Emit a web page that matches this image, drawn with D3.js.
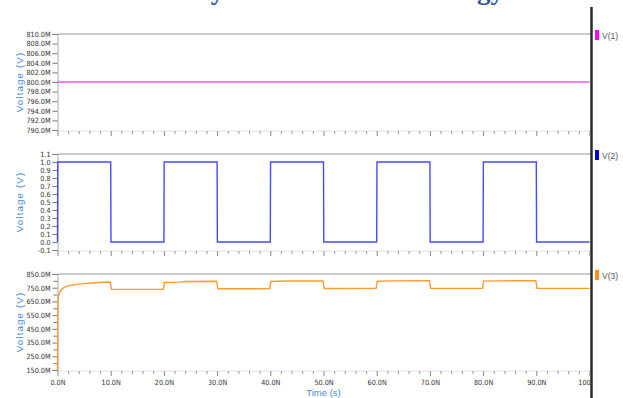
<!DOCTYPE html>
<html>
<head>
<meta charset="utf-8">
<script src="https://cdn.jsdelivr.net/npm/d3@7"></script>
<style>
  html, body { margin: 0; padding: 0; background: #fff; }
  svg { display: block; }
</style>
</head>
<body>
<svg id="chart" width="623" height="398"></svg>
<script>
// ---- data -------------------------------------------------------------
const titleText = "Transient Analysis in 180nm Technology";

// time axis (ns)
const timeTicks = [0, 10, 20, 30, 40, 50, 60, 70, 80, 90, 100];
const timeMinorTicks = [2, 4, 6, 8, 12, 14, 16, 18, 22, 24, 26, 28, 32, 34, 36, 38,
  42, 44, 46, 48, 52, 54, 56, 58, 62, 64, 66, 68, 72, 74, 76, 78, 82, 84, 86, 88, 92, 94, 96, 98];

// V(1): DC supply node
const v1Time  = [0, 100];
const v1Value = [0.800, 0.800];
const v1Ticks = [0.810, 0.808, 0.806, 0.804, 0.802, 0.800, 0.798, 0.796, 0.794, 0.792, 0.790];

// V(2): input pulse
const v2Time  = [0, 0.05, 10, 10.05, 20, 20.05, 30, 30.05, 40, 40.05, 50, 50.05,
  60, 60.05, 70, 70.05, 80, 80.05, 90, 90.05, 100];
const v2Value = [0, 1, 1, 0, 0, 1, 1, 0, 0, 1, 1, 0, 0, 1, 1, 0, 0, 1, 1, 0, 0];
const v2Ticks = [1.1, 1.0, 0.9, 0.8, 0.7, 0.6, 0.5, 0.4, 0.3, 0.2, 0.1, 0.0, -0.1];

// V(3): output node
const v3Time  = [0, 0.02, 0.05, 0.1, 0.2, 0.4, 0.7, 1.0, 1.5, 2.0, 3.0, 4.0, 5.0, 6.0, 7.0, 8.0, 9.0, 9.9,
  10.15, 19.9, 20.1, 23.0, 24.0, 29.9, 30.15, 39.9, 40.1, 43.0, 49.9, 50.15, 59.9,
  60.1, 63.0, 69.9, 70.15, 79.9, 80.1, 83.0, 89.9, 90.15, 100];
const v3Value = [0.150, 0.400, 0.620, 0.665, 0.690, 0.715, 0.733, 0.745, 0.756, 0.763, 0.771, 0.776, 0.780, 0.783, 0.786, 0.788, 0.790, 0.792,
  0.738, 0.739, 0.788, 0.791, 0.795, 0.797, 0.742, 0.743, 0.795, 0.799, 0.800, 0.744, 0.745,
  0.797, 0.800, 0.801, 0.745, 0.745, 0.798, 0.800, 0.801, 0.745, 0.745];
const v3Ticks = [0.850, 0.750, 0.650, 0.550, 0.450, 0.350, 0.250, 0.150];
const v3MinorTicks = [0.800, 0.700, 0.600, 0.500, 0.400, 0.300, 0.200];

const seriesNames = ["V(1)", "V(2)", "V(3)"];
const seriesColors = ["#ff4cff", "#4848ff", "#ff9a2e"];
const swatchColors = ["#ff00ff", "#0000e6", "#ff8c1a"];

// ---- layout -----------------------------------------------------------
const svg = d3.select("#chart");
const plotLeft = 57.5, plotRight = 589.5, rightRule = 591.5;
const panelTop = [34, 154, 274];
const panelH = 96;

const x = d3.scaleLinear().domain([0, 100]).range([plotLeft, plotRight]);

const tickFont = "'DejaVu Sans Condensed', 'DejaVu Sans', sans-serif";
const labelFont = "'Liberation Sans', Arial, sans-serif";

// clip for text that runs into the legend strip
svg.append("defs").append("clipPath").attr("id", "plotClip")
  .append("rect").attr("x", 0).attr("y", 0).attr("width", 590).attr("height", 398);

// title, mostly above the window edge
svg.append("text")
  .attr("x", 504).attr("y", -1.5)
  .attr("text-anchor", "end")
  .attr("font-family", "'Liberation Serif', 'DejaVu Serif', serif")
  .attr("font-weight", "bold")
  .attr("font-size", 27)
  .attr("fill", "#2d5593")
  .text(titleText);

const panels = [
  { time: v1Time, value: v1Value, domain: [0.790, 0.810], ticks: v1Ticks, minor: [],
    fmt: v => (v * 1000).toFixed(1) + "M" },
  { time: v2Time, value: v2Value, domain: [-0.1, 1.1], ticks: v2Ticks, minor: [],
    fmt: v => v.toFixed(1) },
  { time: v3Time, value: v3Value, domain: [0.150, 0.850], ticks: v3Ticks, minor: v3MinorTicks,
    fmt: v => (v * 1000).toFixed(1) + "M" }
];

panels.forEach((p, i) => {
  const top = panelTop[i], bottom = top + panelH;
  const y = d3.scaleLinear().domain(p.domain).range([bottom, top]);
  const g = svg.append("g");

  // frame: top rule, left axis, faint base line
  g.append("line").attr("x1", plotLeft).attr("x2", rightRule)
    .attr("y1", top).attr("y2", top).attr("stroke", "#9a9a9a").attr("stroke-width", 1.2);
  g.append("line").attr("x1", plotLeft).attr("x2", plotRight)
    .attr("y1", bottom + 1).attr("y2", bottom + 1).attr("stroke", "#e2e2e2").attr("stroke-width", 1);

  // y axis
  const yAxis = d3.axisLeft(y).tickValues(p.ticks).tickFormat(p.fmt).tickSize(5).tickPadding(2);
  const ya = g.append("g").attr("transform", `translate(${plotLeft},0)`).call(yAxis);
  ya.select(".domain").attr("stroke", "#a8a8a8");
  ya.selectAll(".tick line").attr("stroke", "#777");
  ya.selectAll(".tick text").attr("font-family", tickFont).attr("font-size", 7.2).attr("fill", "#333");
  if (p.minor.length) {
    const ym = d3.axisLeft(y).tickValues(p.minor).tickFormat("").tickSize(4);
    const ymg = g.append("g").attr("transform", `translate(${plotLeft},0)`).call(ym);
    ymg.select(".domain").remove();
    ymg.selectAll(".tick line").attr("stroke", "#777");
  }

  // x axis ticks along the panel base
  const xMajor = d3.axisBottom(x).tickValues(timeTicks)
    .tickFormat(i === 2 ? (t => t.toFixed(1) + "N") : "").tickSize(5).tickPadding(4);
  const xa = g.append("g").attr("transform", `translate(0,${bottom + 1})`)
    .attr("clip-path", "url(#plotClip)").call(xMajor);
  xa.select(".domain").remove();
  xa.selectAll(".tick line").attr("stroke", "#888");
  xa.selectAll(".tick text").attr("font-family", tickFont).attr("font-size", 7.2).attr("fill", "#333");
  const xMinor = d3.axisBottom(x).tickValues(timeMinorTicks).tickFormat("").tickSize(3);
  const xm = g.append("g").attr("transform", `translate(0,${bottom + 1})`).call(xMinor);
  xm.select(".domain").remove();
  xm.selectAll(".tick line").attr("stroke", "#999");

  // y axis title
  g.append("text")
    .attr("transform", `translate(23,${top + panelH / 2}) rotate(-90)`)
    .attr("text-anchor", "middle")
    .attr("font-family", labelFont).attr("font-size", 9.8)
    .attr("letter-spacing", 1.1)
    .attr("fill", "#4a8ad0")
    .text("Voltage (V)");

  // waveform
  const pts = p.time.map((t, k) => [t, p.value[k]]);
  g.append("path")
    .datum(pts)
    .attr("fill", "none")
    .attr("stroke", seriesColors[i])
    .attr("stroke-width", 1.4)
    .attr("d", d3.line().x(d => x(d[0])).y(d => y(d[1])));

  // legend swatch + name
  g.append("rect").attr("x", 595).attr("y", top - 4).attr("width", 4).attr("height", 10)
    .attr("fill", swatchColors[i]);
  g.append("text").attr("x", 602).attr("y", top + 4.5)
    .attr("font-family", labelFont).attr("font-size", 8.5).attr("fill", "#555")
    .text(seriesNames[i]);
});

// x axis title
svg.append("text")
  .attr("x", 323.5).attr("y", 396)
  .attr("text-anchor", "middle")
  .attr("font-family", labelFont).attr("font-size", 9.5)
  .attr("fill", "#4a8ad0")
  .text("Time (s)");

// heavy cursor rule on the right
svg.append("line").attr("x1", rightRule).attr("x2", rightRule)
  .attr("y1", 7).attr("y2", 398).attr("stroke", "#2a2a2a").attr("stroke-width", 2.5);
</script>
</body>
</html>
